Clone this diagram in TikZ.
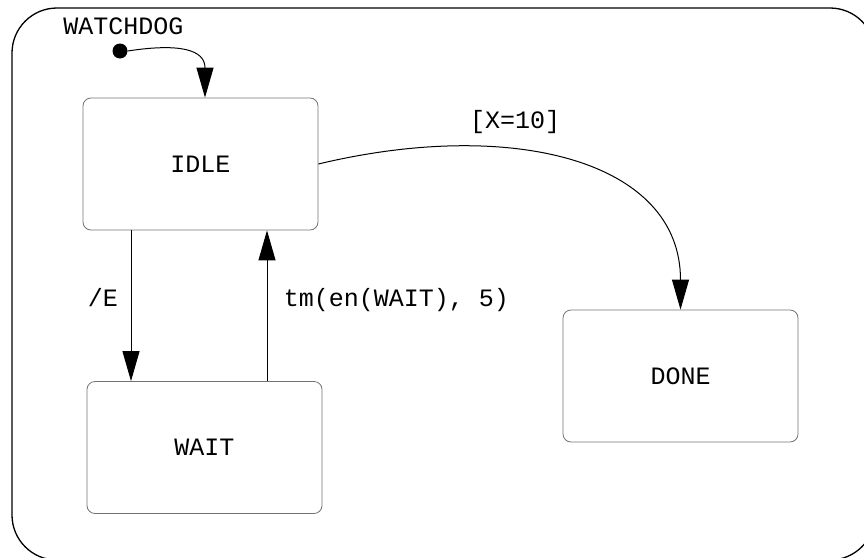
\documentclass[tikz,border=0pt]{standalone}
\usepackage{fontspec}
\setmainfont{Liberation Mono}
\usetikzlibrary{arrows.meta}
\tikzset{
	state/.style={draw=black!55, line width=0.8pt, rounded corners=8pt, minimum width=235pt, minimum height=132pt, inner sep=0pt},
	trans/.style={-{Triangle[length=30pt,width=17pt]}, line width=1pt},
	lbl/.style={inner sep=0pt}
}
\begin{document}
\begin{tikzpicture}[x=1pt, y=-1pt, font=\fontsize{25}{30}\selectfont]
				\useasboundingbox (0,0) rectangle (864,557);
				\clip (0,0) rectangle (864,557);
				\draw[line width=1.3pt, rounded corners=45pt] (12,8) rectangle (875,560);
				\node[lbl] (watchdog) at (123.5,26) {WATCHDOG};

				\node[circle, fill, inner sep=0pt, minimum size=15pt] (init) at (120,51) {};
				\node[state] (idle) at (200.5,164) {IDLE};
				\node[state] (wait) at (204.5,447.5) {WAIT};
				\node[state] (done) at (680.5,376) {DONE};

				\draw[trans] (init.east) .. controls +(52,-8) and +(0,-48) .. ([xshift=4.5pt]idle.north);
				\draw[trans] ([xshift=-69.5pt]idle.south) -- ([xshift=-73.5pt]wait.north);
				\draw[trans] ([xshift=62.5pt]wait.north) -- ([xshift=66.5pt]idle.south);
				\draw[trans] (idle.east) .. controls +(192,-46) and +(0,-150) .. (done.north);

				\node[lbl] (e) at (103,298) {/E};
				\node[lbl] (tm) at (396.5,300) {tm(en(WAIT), 5)};
				\node[lbl] (guard) at (515,122) {[X=10]};
\end{tikzpicture}
\end{document}
